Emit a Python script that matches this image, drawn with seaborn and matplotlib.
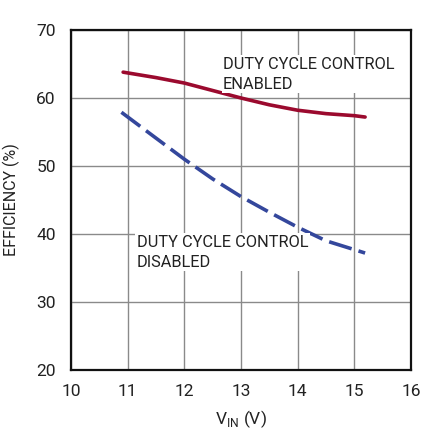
import matplotlib
matplotlib.use("Agg")
import matplotlib.pyplot as plt
import seaborn as sns
import pandas as pd

# Data
vin_enabled = [10.92, 11.5, 12.0, 12.5, 13.0, 13.5, 14.0, 14.5, 15.0, 15.19]
eff_enabled = [63.8, 63.0, 62.2, 61.1, 60.0, 59.0, 58.2, 57.7, 57.4, 57.2]
vin_disabled = [10.89, 11.5, 12.0, 12.5, 13.0, 13.5, 14.0, 14.5, 15.0, 15.19]
eff_disabled = [57.9, 54.1, 51.0, 48.1, 45.5, 43.2, 41.0, 39.0, 37.7, 37.2]
x_ticks = [10, 11, 12, 13, 14, 15, 16]
y_ticks = [20, 30, 40, 50, 60, 70]
label_enabled = "DUTY CYCLE CONTROL\nENABLED"
label_disabled = "DUTY CYCLE CONTROL\nDISABLED"

sns.set_theme(style="white")
plt.rcParams['font.family'] = ['Roboto', 'Liberation Sans', 'DejaVu Sans']

df_en = pd.DataFrame({"vin": vin_enabled, "eff": eff_enabled})
df_dis = pd.DataFrame({"vin": vin_disabled, "eff": eff_disabled})

fig = plt.figure(figsize=(4.35, 4.37), dpi=100)
ax = fig.add_axes([71/435, 1 - 370/437, 340/435, 340/437])

sns.lineplot(data=df_en, x="vin", y="eff", ax=ax, color="#9B0A2E", linewidth=2.6)
sns.lineplot(data=df_dis, x="vin", y="eff", ax=ax, color="#34479C", linewidth=2.6)
ax.lines[-1].set_dashes((6.5, 2.0))

ax.set_xlim(10, 16)
ax.set_ylim(20, 70)
ax.set_xticks(x_ticks)
ax.set_yticks(y_ticks)
ax.set_xticklabels([str(t) for t in x_ticks], fontsize=12.5, color="#222222")
ax.set_yticklabels([str(t) for t in y_ticks], fontsize=12.5, color="#222222")
ax.tick_params(axis="x", length=0, pad=10)
ax.tick_params(axis="y", length=0, pad=11)
ax.grid(True, color="#8a8a8a", linewidth=1.0)
for s in ax.spines.values():
    s.set_color("#111111")
    s.set_linewidth(1.6)
    s.set_visible(True)

ax.set_xlabel(r"V$_{\mathregular{IN}}$ (V)", fontsize=12.5, color="#222222", labelpad=7)
ax.set_ylabel("EFFICIENCY (%)", fontsize=11.5, color="#222222", labelpad=12)

ax.text(12.68, 66.1, label_enabled, fontsize=11.8, color="#222222",
        va="top", ha="left", linespacing=1.45,
        bbox=dict(facecolor="white", edgecolor="none", pad=1.0))
ax.text(11.16, 39.9, label_disabled, fontsize=11.8, color="#222222",
        va="top", ha="left", linespacing=1.45,
        bbox=dict(facecolor="white", edgecolor="none", pad=1.0))

fig.savefig("out.png", dpi=100, facecolor="white")
